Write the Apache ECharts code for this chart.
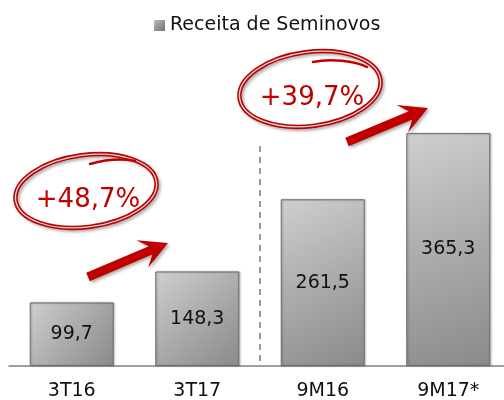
<!DOCTYPE html>
<html><head><meta charset="utf-8">
<script src="https://cdn.jsdelivr.net/npm/echarts@6/dist/echarts.min.js"></script>
<style>html,body{margin:0;padding:0;background:#fff}#c{width:504px;height:400px}</style>
</head><body><div id="c"></div>
<script>
var categories = ['3T16', '3T17', '9M16', '9M17*'];
var seriesName = 'Receita de Seminovos';
var values = [99.7, 148.3, 261.5, 365.3];
var growthLabels = ['+48,7%', '+39,7%'];

var FONT = 'DejaVu Sans';
var RED = '#c00000';
var chart = echarts.init(document.getElementById('c'), null, {renderer: 'canvas'});

function fmt(v) { return String(v.toFixed(1)).replace('.', ','); }

chart.setOption({
  animation: false,
  legend: {
    data: [seriesName], left: 149, top: 11,
    itemWidth: 11, itemHeight: 11, itemGap: 5, icon: 'rect',
    itemStyle: {borderWidth: 0, color: new echarts.graphic.LinearGradient(0, 0, 1, 1, [
      {offset: 0, color: '#bdbdbd'}, {offset: 1, color: '#6f6f6f'}])},
    textStyle: {fontFamily: FONT, fontSize: 19, color: '#111'}
  },
  grid: {left: 9, width: 502, top: 111, bottom: 34, containLabel: false, outerBoundsMode: 'none'},
  xAxis: {
    type: 'category', data: categories,
    axisLine: {lineStyle: {color: '#808080', width: 1.5}},
    axisTick: {show: false},
    axisLabel: {fontFamily: FONT, fontSize: 19, color: '#111', margin: 16}
  },
  yAxis: {type: 'value', min: 0, max: 400, show: false, splitLine: {show: false}},
  series: [{
    name: seriesName, type: 'bar', data: values, barWidth: 84,
    itemStyle: {
      color: new echarts.graphic.LinearGradient(0, 0, 1, 1, [
        {offset: 0, color: '#cfcfcf'}, {offset: 0.5, color: '#ababab'}, {offset: 1, color: '#8a8a8a'}
      ]),
      borderColor: '#6e6e6e', borderWidth: 1,
      shadowColor: 'rgba(0,0,0,0.25)', shadowBlur: 2, shadowOffsetX: 1, shadowOffsetY: 0
    },
    label: {
      show: true, position: 'inside', fontFamily: FONT, fontSize: 19, color: '#111',
      formatter: function (p) { return fmt(p.value); }
    }
  }]
});

function arrow(tail, tip) {
  var dx = tip[0] - tail[0], dy = tip[1] - tail[1];
  var L = Math.sqrt(dx * dx + dy * dy), ux = dx / L, uy = dy / L, nx = -uy, ny = ux;
  var sw = 4.5, hl = 28, hw = 15, notch = 9;
  var bx = tip[0] - ux * hl, by = tip[1] - uy * hl;
  var ix = bx + ux * notch, iy = by + uy * notch;
  return {
    type: 'polygon', z: 10,
    shape: {points: [
      [tail[0] + nx * sw, tail[1] + ny * sw], [ix + nx * sw, iy + ny * sw], [bx + nx * hw, by + ny * hw],
      tip, [bx - nx * hw, by - ny * hw], [ix - nx * sw, iy - ny * sw], [tail[0] - nx * sw, tail[1] - ny * sw]
    ]},
    style: {fill: RED, shadowColor: 'rgba(0,0,0,0.3)', shadowBlur: 3, shadowOffsetX: 2, shadowOffsetY: 2}
  };
}

function ring(cx, cy, rx, ry, rot, tail, text, ty) {
  var base = {type: 'ellipse', shape: {cx: cx, cy: cy, rx: rx, ry: ry}, rotation: rot, originX: cx, originY: cy, z: 10};
  return [
    echarts.util.merge({style: {fill: 'none', stroke: RED, lineWidth: 4.5, shadowColor: 'rgba(0,0,0,0.3)', shadowBlur: 3, shadowOffsetX: 2, shadowOffsetY: 2}}, base, true),
    echarts.util.merge({style: {fill: 'none', stroke: '#d9d9d9', lineWidth: 1.3}}, base, true),
    {type: 'bezierCurve', z: 10, shape: tail, style: {fill: 'none', stroke: RED, lineWidth: 2.5, lineCap: 'round'}},
    {type: 'text', z: 11, x: cx + 2, y: ty, style: {text: text, fill: RED, font: '26px "' + FONT + '"', align: 'center', verticalAlign: 'middle'}}
  ];
}

var p1 = chart.convertToPixel({xAxisIndex: 0}, 1);
var p2 = chart.convertToPixel({xAxisIndex: 0}, 2);
var sepX = (p1 + p2) / 2;
var yTop = chart.convertToPixel({yAxisIndex: 0}, 345);
var yBot = chart.convertToPixel({yAxisIndex: 0}, 0);

var g = [
  {type: 'line', shape: {x1: sepX, y1: yTop, x2: sepX, y2: yBot}, style: {stroke: '#777', lineWidth: 1.5, lineDash: [6, 5]}},
  arrow([88, 277], [168, 243]),
  arrow([347, 142], [428, 108])
];
g = g.concat(ring(86, 191, 71, 36, 0.13, {x1: 90, y1: 164, x2: 135, y2: 161, cpx1: 108, cpy1: 159, cpx2: 125, cpy2: 159}, growthLabels[0], 200));
g = g.concat(ring(310, 89, 71, 37, 0.13, {x1: 313, y1: 62, x2: 367, y2: 67, cpx1: 330, cpy1: 58, cpx2: 355, cpy2: 61}, growthLabels[1], 98));
chart.setOption({graphic: g});
</script></body></html>
